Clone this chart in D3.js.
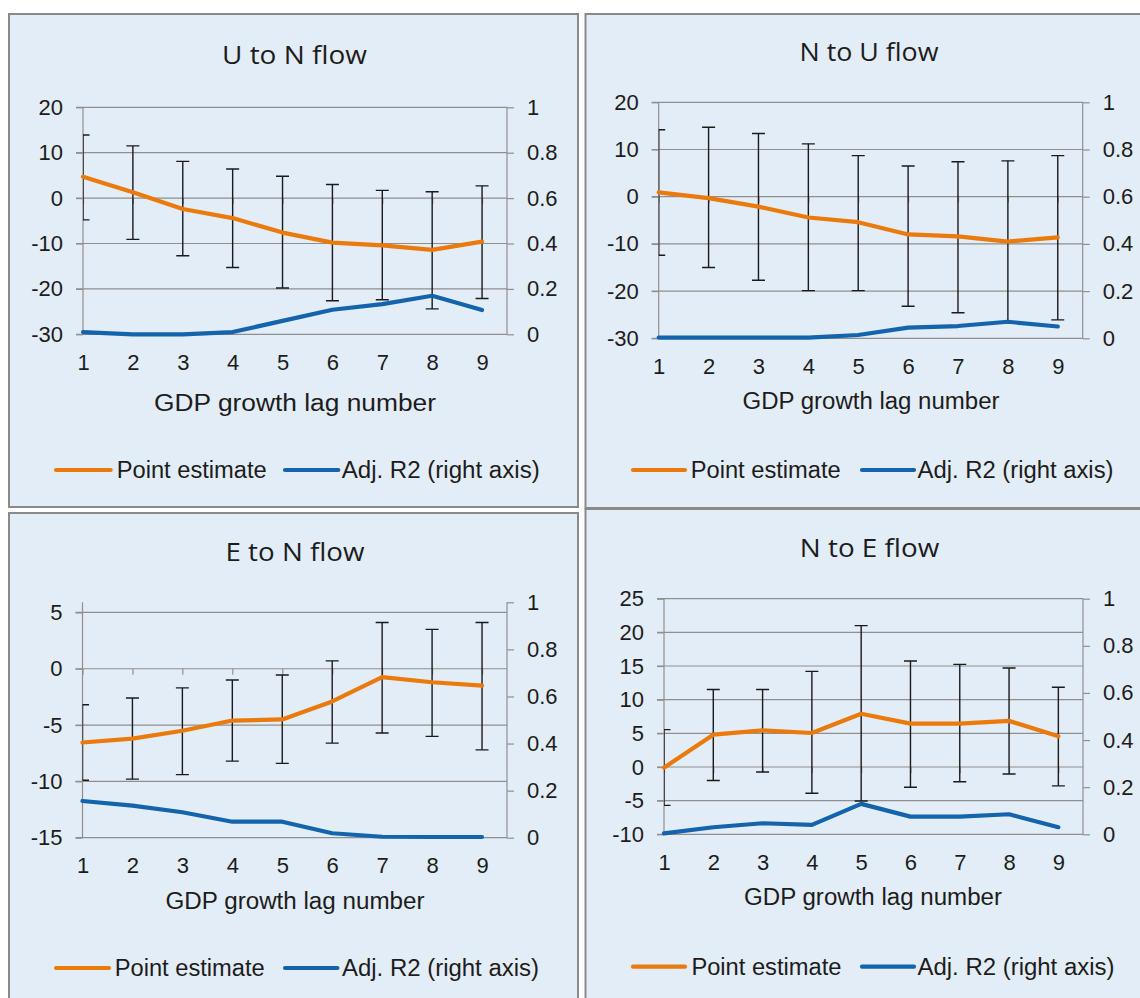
<!DOCTYPE html>
<html>
<head>
<meta charset="utf-8">
<script src="https://cdn.jsdelivr.net/npm/d3@7"></script>
<style>
  html, body { margin: 0; padding: 0; background: #ffffff; }
  svg { display: block; }
</style>
</head>
<body>
<svg id="chart" width="1140" height="998"></svg>
<script>
// ---------------- DATA ----------------
const lags = [1, 2, 3, 4, 5, 6, 7, 8, 9];
const r2Ticks = [0, 0.2, 0.4, 0.6, 0.8, 1];

const unTicks = [-30, -20, -10, 0, 10, 20];
const unEst = [4.7, 1.3, -2.4, -4.4, -7.6, -9.8, -10.4, -11.4, -9.6];
const unHi  = [13.9, 11.5, 8.1, 6.4, 4.8, 3.0, 1.7, 1.4, 2.7];
const unLo  = [-4.8, -9.1, -12.7, -15.3, -19.8, -22.6, -22.4, -24.4, -22.1];
const unR2  = [0.01, 0.0, 0.0, 0.01, 0.059, 0.108, 0.133, 0.17, 0.107];

const nuTicks = [-30, -20, -10, 0, 10, 20];
const nuEst = [0.9, -0.3, -2.1, -4.4, -5.4, -8.0, -8.4, -9.5, -8.6];
const nuHi  = [14.2, 14.7, 13.4, 11.2, 8.7, 6.5, 7.4, 7.6, 8.7];
const nuLo  = [-12.4, -15.0, -17.7, -19.9, -19.9, -23.2, -24.6, -26.8, -26.1];
const nuR2  = [0.003, 0.003, 0.003, 0.003, 0.014, 0.045, 0.052, 0.07, 0.05];

const enTicks = [-15, -10, -5, 0, 5];
const enEst = [-6.55, -6.2, -5.5, -4.6, -4.5, -2.9, -0.75, -1.2, -1.5];
const enHi  = [-3.2, -2.6, -1.7, -1.0, -0.55, 0.7, 4.1, 3.5, 4.1];
const enLo  = [-9.9, -9.8, -9.4, -8.2, -8.4, -6.6, -5.7, -6.0, -7.2];
const enR2  = [0.156, 0.136, 0.108, 0.068, 0.068, 0.019, 0.004, 0.003, 0.003];

const neTicks = [-10, -5, 0, 5, 10, 15, 20, 25];
const neEst = [-0.1, 4.8, 5.45, 5.05, 7.9, 6.45, 6.45, 6.85, 4.55];
const neHi  = [5.55, 11.5, 11.5, 14.2, 21.0, 15.75, 15.25, 14.7, 11.85];
const neLo  = [-5.7, -2.0, -0.75, -3.9, -5.05, -3.0, -2.2, -1.05, -2.8];
const neR2  = [0.004, 0.03, 0.047, 0.04, 0.129, 0.075, 0.075, 0.085, 0.03];

const titles = ["U to N flow", "N to U flow", "E to N flow", "N to E flow"];
const xTitle = "GDP growth lag number";
const legendLabels = ["Point estimate", "Adj. R2 (right axis)"];

// ---------------- LAYOUT ----------------
const ORANGE = "#eb7a0c", BLUE = "#1363ad", GRID = "#8f8f8f", TXT = "#1c1c1c";
const FONT = "'Liberation Sans', Arial, sans-serif";
const TFONT = "'Open Sans', 'Liberation Sans', sans-serif";

const panels = [
  { title: titles[0], est: unEst, hi: unHi, lo: unLo, r2: unR2, ticks: unTicks, yDom: [-30, 20],
    box: [9, 14, 569, 493], plot: { l: 83, r: 507, t: 107.3, b: 334.3 },
    tx: 294.5, ty: 64, tlen: 145, ax: 295, ay: 410.7, alen: 282,
    ly: 470, leg: [56, 110.7, 116.7, 150, 285, 338.3, 341.7, 198] },
  { title: titles[1], est: nuEst, hi: nuHi, lo: nuLo, r2: nuR2, ticks: nuTicks, yDom: [-30, 20],
    box: [585.5, 14, 600, 494], plot: { l: 658.7, r: 1082.7, t: 102.3, b: 338.3 },
    tx: 869, ty: 61, tlen: 139, ax: 871, ay: 409, alen: 257,
    ly: 470, leg: [633, 685, 690.7, 150, 862, 914, 917.5, 196] },
  { title: titles[2], est: enEst, hi: enHi, lo: enLo, r2: enR2, ticks: enTicks, yDom: [-15, 5.9],
    box: [9, 513, 569, 500], plot: { l: 82.5, r: 507, t: 602.3, b: 837.7 },
    tx: 295, ty: 561, tlen: 139, ax: 295, ay: 909, alen: 259,
    ly: 968, leg: [56, 109, 114.7, 150, 285, 337.4, 342, 197] },
  { title: titles[3], est: neEst, hi: neHi, lo: neLo, r2: neR2, ticks: neTicks, yDom: [-10, 25],
    box: [585.5, 509, 600, 500], plot: { l: 664, r: 1083, t: 598.7, b: 834.3 },
    tx: 869.5, ty: 556.7, tlen: 139.4, ax: 873, ay: 905, alen: 258,
    ly: 966.7, leg: [633, 685, 691.4, 150, 862, 914, 917.5, 197] }
];

const svg = d3.select("#chart");

panels.forEach((p, pi) => {
  const g = svg.append("g");
  const P = p.plot;

  // panel background + border
  g.append("rect")
    .attr("x", p.box[0]).attr("y", p.box[1])
    .attr("width", p.box[2]).attr("height", p.box[3])
    .attr("fill", "#e3edf7").attr("stroke", "#8a8a8a").attr("stroke-width", 2);

  const x = d3.scaleLinear().domain([1, 9.5]).range([P.l, P.r]);
  const yL = d3.scaleLinear().domain(p.yDom).range([P.b, P.t]);
  const yR = d3.scaleLinear().domain([0, 1]).range([P.b, P.t]);

  // gridlines
  g.append("g").selectAll("line").data(p.ticks).join("line")
    .attr("x1", P.l - 7).attr("x2", P.r)
    .attr("y1", d => yL(d)).attr("y2", d => yL(d))
    .attr("stroke", GRID).attr("stroke-width", 1.2);

  // left axis
  const la = g.append("g").attr("transform", `translate(${P.l},0)`)
    .call(d3.axisLeft(yL).tickValues(p.ticks).tickSize(7).tickSizeOuter(0).tickPadding(13)
      .tickFormat(d => String(d)));
  // right axis
  const ra = g.append("g").attr("transform", `translate(${P.r},0)`)
    .call(d3.axisRight(yR).tickValues(r2Ticks).tickSize(7).tickSizeOuter(0).tickPadding(13)
      .tickFormat(d => String(d)));
  [la, ra].forEach(a => {
    a.selectAll("path.domain").attr("stroke", GRID).attr("stroke-width", 1.2);
    a.selectAll(".tick line").attr("stroke", GRID).attr("stroke-width", 1.2);
    a.selectAll("text").attr("font-family", FONT).attr("font-size", 22).attr("fill", TXT);
  });
  // extend left axis line to top of plot
  la.select("path.domain").attr("d", `M0,${P.t}V${P.b}`);
  ra.select("path.domain").attr("d", `M0,${P.t}V${P.b}`);

  // category tick marks on the zero line
  const zt = g.append("g").attr("transform", `translate(0,${yL(0)})`)
    .call(d3.axisBottom(x).tickValues(lags).tickSize(6).tickFormat(""));
  zt.select("path.domain").remove();
  zt.selectAll(".tick line").attr("stroke", GRID).attr("stroke-width", 1.2);

  // bottom labels
  const ba = g.append("g").attr("transform", `translate(0,${P.b})`)
    .call(d3.axisBottom(x).tickValues(lags).tickSize(0).tickPadding(20).tickFormat(d => String(d)));
  ba.select("path.domain").remove();
  ba.selectAll("text").attr("font-family", FONT).attr("font-size", 22).attr("fill", TXT);

  // error bars (clipped at the left axis)
  const clipId = "clip" + pi;
  g.append("clipPath").attr("id", clipId).append("rect")
    .attr("x", P.l).attr("y", P.t - 50).attr("width", P.r - P.l + 20).attr("height", P.b - P.t + 100);
  const eb = g.append("g").attr("clip-path", `url(#${clipId})`)
    .attr("stroke", "#1a1a1a").attr("stroke-width", 1.4).attr("fill", "none");
  const ebData = lags.map((c, i) => ({ c, hi: p.hi[i], lo: p.lo[i] }));
  eb.selectAll("line.v").data(ebData).join("line").attr("class", "v")
    .attr("x1", d => x(d.c)).attr("x2", d => x(d.c))
    .attr("y1", d => yL(d.hi)).attr("y2", d => yL(d.lo));
  eb.selectAll("line.ct").data(ebData).join("line").attr("class", "ct")
    .attr("x1", d => x(d.c) - 6.5).attr("x2", d => x(d.c) + 6.5)
    .attr("y1", d => yL(d.hi)).attr("y2", d => yL(d.hi));
  eb.selectAll("line.cb").data(ebData).join("line").attr("class", "cb")
    .attr("x1", d => x(d.c) - 6.5).attr("x2", d => x(d.c) + 6.5)
    .attr("y1", d => yL(d.lo)).attr("y2", d => yL(d.lo));

  // lines
  const lineL = d3.line().x((d, i) => x(lags[i])).y(d => yL(d));
  const lineR = d3.line().x((d, i) => x(lags[i])).y(d => yR(d));
  g.append("path").datum(p.r2).attr("d", lineR)
    .attr("fill", "none").attr("stroke", BLUE).attr("stroke-width", 4.2)
    .attr("stroke-linejoin", "round").attr("stroke-linecap", "round");
  g.append("path").datum(p.est).attr("d", lineL)
    .attr("fill", "none").attr("stroke", ORANGE).attr("stroke-width", 4.2)
    .attr("stroke-linejoin", "round").attr("stroke-linecap", "round");

  // title
  g.append("text").attr("x", p.tx).attr("y", p.ty).attr("text-anchor", "middle")
    .attr("font-family", TFONT).attr("font-size", 26).attr("fill", TXT)
    .attr("textLength", p.tlen).attr("lengthAdjust", "spacingAndGlyphs")
    .text(p.title);

  // x axis title
  g.append("text").attr("x", p.ax).attr("y", p.ay).attr("text-anchor", "middle")
    .attr("font-family", FONT).attr("font-size", 23.5).attr("fill", TXT)
    .attr("textLength", p.alen).attr("lengthAdjust", "spacingAndGlyphs")
    .text(xTitle);

  // legend
  const L = p.leg;
  const legItems = [
    { x1: L[0], x2: L[1], tx: L[2], tl: L[3], color: ORANGE, label: legendLabels[0] },
    { x1: L[4], x2: L[5], tx: L[6], tl: L[7], color: BLUE, label: legendLabels[1] }
  ];
  const lg = g.append("g");
  lg.selectAll("line").data(legItems).join("line")
    .attr("x1", d => d.x1).attr("x2", d => d.x2).attr("y1", p.ly).attr("y2", p.ly)
    .attr("stroke", d => d.color).attr("stroke-width", 4.2).attr("stroke-linecap", "round");
  lg.selectAll("text").data(legItems).join("text")
    .attr("x", d => d.tx).attr("y", p.ly + 8.3)
    .attr("font-family", FONT).attr("font-size", 23.5).attr("fill", TXT)
    .attr("textLength", d => d.tl).attr("lengthAdjust", "spacingAndGlyphs")
    .text(d => d.label);
});
</script>
</body>
</html>
